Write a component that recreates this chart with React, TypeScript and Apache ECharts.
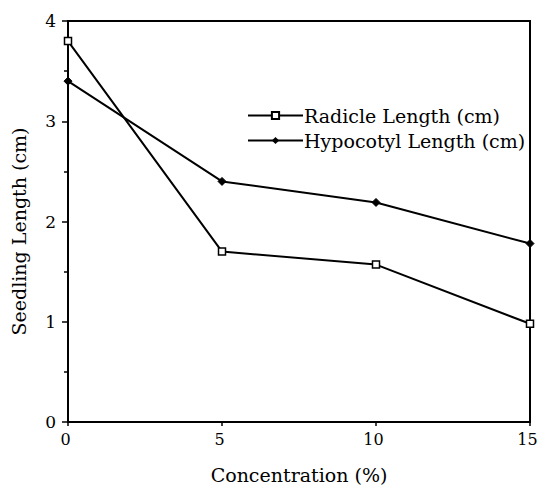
import React, { useEffect, useRef } from "react";
import * as echarts from "echarts";

const concentrations = [0, 5, 10, 15];
const radicle = [3.8, 1.7, 1.57, 0.98];
const hypocotyl = [3.4, 2.4, 2.19, 1.78];
const xTicks = [0, 5, 10, 15];
const yTicks = [0, 1, 2, 3, 4];

const FONT = "DejaVu Serif";

export default function App() {
  const ref = useRef<HTMLDivElement>(null);
  useEffect(() => {
    if (!ref.current) return;
    const chart = echarts.init(ref.current, null, { renderer: "svg" });
    chart.setOption({
      animation: false,
      backgroundColor: "#fff",
      grid: {
        left: 68,
        right: 9,
        top: 21,
        bottom: 66,
        outerBoundsMode: "none",
        containLabel: false,
        show: true,
        borderColor: "#000",
        borderWidth: 2,
      },
      legend: {
        orient: "vertical",
        left: 242,
        top: 101,
        itemWidth: 55,
        itemHeight: 9,
        itemGap: 6,
        textStyle: { fontFamily: FONT, fontSize: 19, color: "#000", padding: [0, 0, 0, -4] },
        data: ["Radicle Length (cm)", "Hypocotyl Length (cm)"],
      },
      xAxis: {
        type: "value",
        min: 0,
        max: 15,
        interval: 5,
        name: "Concentration (%)",
        nameLocation: "middle",
        nameGap: 43,
        nameTextStyle: { fontFamily: FONT, fontSize: 19, color: "#000" },
        axisLine: { lineStyle: { color: "#000", width: 2 } },
        axisTick: { show: true, length: 4, lineStyle: { color: "#000", width: 1.5 } },
        axisLabel: {
          fontFamily: FONT,
          fontSize: 16,
          color: "#000",
          margin: 9,
          padding: [0, 5, 0, 0],
          formatter: (v: number) => (xTicks.includes(v) ? String(v) : ""),
        },
        splitLine: { show: false },
      },
      yAxis: {
        type: "value",
        min: 0,
        max: 4,
        interval: 1,
        name: "Seedling Length (cm)",
        nameLocation: "middle",
        nameGap: 40,
        nameTextStyle: { fontFamily: FONT, fontSize: 19, color: "#000", padding: [0, 20, 0, 0] },
        axisLine: { lineStyle: { color: "#000", width: 2 } },
        axisTick: { show: true, length: 6, lineStyle: { color: "#000", width: 1.5 } },
        minorTick: { show: true, splitNumber: 2, length: 4, lineStyle: { color: "#000", width: 1.5 } },
        axisLabel: {
          fontFamily: FONT,
          fontSize: 17,
          color: "#000",
          margin: 12,
          formatter: (v: number) => (yTicks.includes(v) ? String(v) : ""),
        },
        splitLine: { show: false },
      },
      series: [
        {
          name: "Radicle Length (cm)",
          type: "line",
          data: concentrations.map((c, i) => [c, radicle[i]]),
          symbol: "rect",
          symbolSize: 7,
          itemStyle: { color: "#fff", borderColor: "#000", borderWidth: 1.5 },
          lineStyle: { color: "#000", width: 2 },
        },
        {
          name: "Hypocotyl Length (cm)",
          type: "line",
          data: concentrations.map((c, i) => [c, hypocotyl[i]]),
          symbol: "diamond",
          symbolSize: 8,
          itemStyle: { color: "#000", borderColor: "#000" },
          lineStyle: { color: "#000", width: 2 },
        },
      ],
    });
    return () => chart.dispose();
  }, []);
  return (
    <div
      ref={ref}
      style={{ position: "fixed", left: 0, top: 0, width: 539, height: 488 }}
    />
  );
}
